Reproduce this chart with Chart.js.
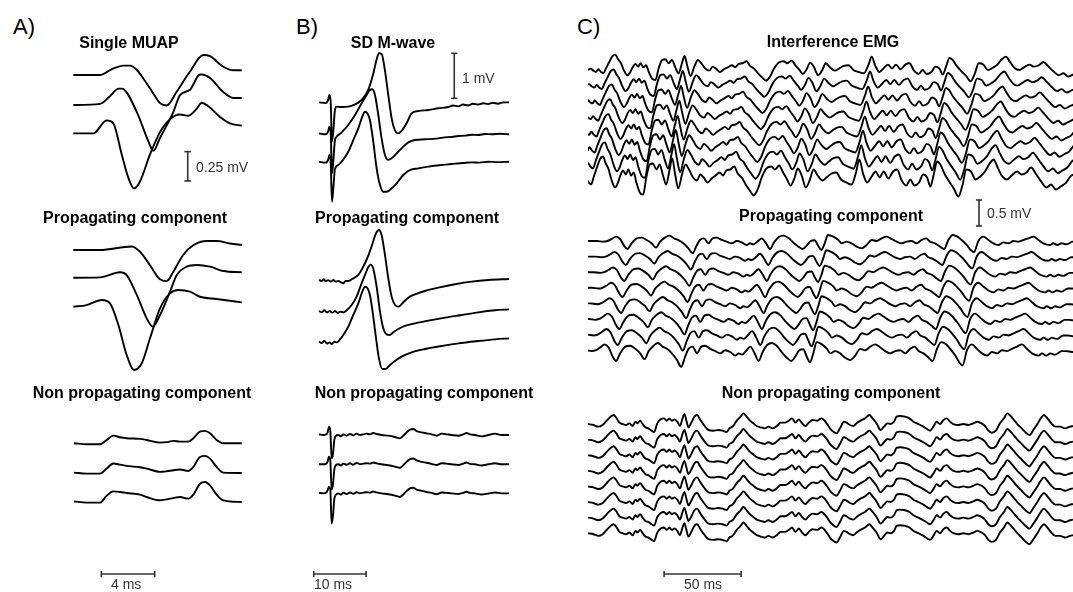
<!DOCTYPE html>
<html>
<head>
<meta charset="utf-8">
<title>Single MUAP, M-wave and interference EMG</title>
<script src="https://cdn.jsdelivr.net/npm/chart.js@4.4.1/dist/chart.umd.min.js"></script>
<style>
  body { margin: 0; background: #fff; }
  #fig { position: relative; width: 1073px; height: 592px; overflow: hidden; font-family: 'Liberation Sans', Arial, sans-serif; color: #000; }
  #fig canvas { position: absolute; }
  .t { position: absolute; white-space: nowrap; line-height: 1; }
  .title { font-weight: bold; font-size: 16px; transform: translate(-50%, -50%); }
  .panel { font-size: 22px; transform: translateY(-50%); }
  .unit { font-size: 14px; color: #333; transform: translateY(-50%); }
</style>
</head>
<body>
<div id="fig">
  <canvas id="colA" width="200" height="540" style="left:60px;top:40px"></canvas>
  <canvas id="colB" width="220" height="540" style="left:300px;top:40px"></canvas>
  <canvas id="colC" width="485" height="540" style="left:588px;top:40px"></canvas>

  <div class="t panel" style="left:13px;top:27px">A)</div>
  <div class="t panel" style="left:296px;top:27px">B)</div>
  <div class="t panel" style="left:577px;top:27px">C)</div>

  <div class="t title" style="left:129px;top:43px">Single MUAP</div>
  <div class="t title" style="left:393px;top:43px">SD M-wave</div>
  <div class="t title" style="left:833px;top:42px">Interference EMG</div>

  <div class="t title" style="left:135px;top:218px">Propagating component</div>
  <div class="t title" style="left:407px;top:218px">Propagating component</div>
  <div class="t title" style="left:831px;top:216px">Propagating component</div>

  <div class="t title" style="left:142px;top:393px">Non propagating component</div>
  <div class="t title" style="left:424px;top:393px">Non propagating component</div>
  <div class="t title" style="left:831px;top:393px">Non propagating component</div>

  <div class="t unit" style="left:196px;top:167px">0.25 mV</div>
  <div class="t unit" style="left:462px;top:78px">1 mV</div>
  <div class="t unit" style="left:987px;top:213px">0.5 mV</div>
  <div class="t unit" style="left:111px;top:584px">4 ms</div>
  <div class="t unit" style="left:314px;top:584px">10 ms</div>
  <div class="t unit" style="left:684px;top:584px">50 ms</div>
</div>

<script>
// time in ms, amplitude in mV (relative to each trace's own baseline)

// A) single MUAP, 3 channels
const muapTop1 = [[0,0],[2.0,0],[2.9,0.05],[3.75,0.08],[4.25,0.08],[4.75,0.045],[5.25,-0.03],[5.9,-0.14],[6.5,-0.24],[7.0,-0.26],[7.76,-0.14],[8.75,0.03],[9.75,0.17],[10.25,0.16],[11.25,0.07],[12.0,0.04],[12.63,0.04]];
const muapTop2 = [[0,0],[2.0,0.01],[2.7,0.07],[3.4,0.14],[3.63,0.14],[4.76,-0.06],[5.63,-0.31],[6.0,-0.39],[6.5,-0.28],[7.5,-0.06],[8.0,0.085],[8.75,0.13],[9.5,0.26],[9.63,0.26],[10.25,0.23],[11.25,0.11],[12.0,0.06],[12.63,0.06]];
const muapTop3 = [[0,0],[1.5,0],[2.5,0.11],[3.0,0.085],[3.63,-0.18],[4.13,-0.38],[4.55,-0.47],[5.0,-0.41],[5.75,-0.18],[6.5,0.01],[7.25,0.12],[8.0,0.16],[8.63,0.15],[9.26,0.21],[9.63,0.26],[10.13,0.23],[11.0,0.14],[11.75,0.085],[12.63,0.065]];

const muapProp1 = [[0,0],[2.0,0],[4.38,0.03],[5.0,-0.015],[5.75,-0.13],[6.5,-0.25],[7.0,-0.265],[7.5,-0.185],[8.25,-0.04],[9.0,0.04],[10.0,0.077],[10.75,0.077],[11.75,0.056],[12.63,0.043]];
const muapProp2 = [[0,0],[2.0,0.003],[3.5,0.046],[4.0,0.023],[4.76,-0.147],[5.5,-0.346],[5.96,-0.417],[6.5,-0.318],[7.25,-0.119],[7.76,0.023],[8.5,0.094],[9.26,0.108],[10.25,0.094],[11.25,0.057],[12.63,0.046]];
const muapProp3 = [[0,0],[1.0,0.014],[2.13,0.057],[2.75,0.029],[3.38,-0.156],[4.0,-0.411],[4.55,-0.539],[5.13,-0.482],[5.75,-0.269],[6.5,-0.014],[7.25,0.114],[7.88,0.142],[8.75,0.128],[9.5,0.085],[10.75,0.066],[12.63,0.037]];

const muapNonPropT = [0.05,1.0,2.0,2.5,3.0,3.5,4.0,5.0,5.5,6.5,7.0,7.5,8.0,8.63,9.0,9.5,9.88,10.25,10.75,11.25,12.63];
const muapNonProp1 = [0,-0.009,-0.009,0.028,0.065,0.051,0.043,0.037,0.028,0.005,0.009,0.02,0.014,0.014,0.043,0.099,0.105,0.085,0.028,0,0];
const muapNonProp2 = [0,-0.009,-0.009,0.034,0.077,0.068,0.057,0.045,0.034,0.006,0.011,0.02,0.026,0.014,0.048,0.133,0.142,0.119,0.048,0,-0.003];
const muapNonProp3 = [0,-0.011,-0.011,0.048,0.085,0.08,0.071,0.057,0.037,0.009,0.017,0.028,0.037,0.023,0.057,0.15,0.165,0.136,0.057,0.009,-0.006];

// B) single differential M-wave, 3 channels
const mwave1 = [[0.02,0],[1.3,-0.015],[1.8,0.067],[2.0,0.163],[2.26,0.015],[2.5,-0.87],[2.75,-0.65],[3.07,-0.17],[3.4,-0.096],[4.35,-0.104],[5.6,-0.096],[6.9,-0.044],[8.17,0.052],[9.4,0.27],[10.4,0.64],[11.0,0.94],[11.5,1.09],[12.0,1.07],[12.6,0.72],[13.25,0.163],[13.9,-0.356],[14.5,-0.615],[15.15,-0.69],[15.8,-0.637],[16.75,-0.467],[17.7,-0.244],[19.0,-0.193],[20.9,-0.17],[22.8,-0.133],[24.7,-0.104],[25.6,-0.07],[26.6,-0.09],[27.5,-0.05],[28.5,-0.07],[29.4,-0.03],[30.4,-0.05],[31.4,-0.02],[32.3,-0.04],[33.2,-0.01],[34.2,-0.03],[35.2,0],[36.3,0]];
const mwave2 = [[0.02,0],[1.3,-0.022],[1.8,0.052],[2.0,0.148],[2.26,0.022],[2.5,-0.89],[2.75,-0.63],[3.07,-0.148],[3.4,-0.074],[4.35,0.022],[5.6,0.185],[6.9,0.407],[8.17,0.667],[9.12,0.852],[9.75,0.963],[10.2,0.978],[10.71,0.852],[11.35,0.407],[11.98,-0.111],[12.62,-0.48],[13.26,-0.59],[13.89,-0.556],[14.85,-0.444],[15.8,-0.333],[17.07,-0.2],[18.35,-0.148],[20.25,-0.133],[22.8,-0.111],[24.0,-0.09],[25.35,-0.081],[26.6,-0.06],[27.9,-0.052],[29.2,-0.03],[30.44,-0.037],[31.7,-0.015],[32.98,-0.022],[34.6,-0.01],[36.29,-0.022]];
const mwave3 = [[0.02,0],[1.29,-0.022],[1.8,0.052],[1.99,0.148],[2.25,0.015],[2.5,-0.889],[2.76,-0.593],[3.07,-0.163],[3.71,-0.074],[4.35,0],[5.62,0.222],[6.57,0.481],[7.53,0.741],[8.29,1.0],[8.8,1.111],[9.25,1.074],[9.75,0.926],[10.39,0.444],[11.03,-0.148],[11.67,-0.519],[12.3,-0.667],[12.94,-0.667],[13.76,-0.607],[14.85,-0.481],[16.12,-0.296],[17.39,-0.185],[18.98,-0.148],[20.89,-0.111],[23.44,-0.074],[24.7,-0.06],[25.98,-0.044],[27.5,-0.03],[29.16,-0.015],[30.7,-0.02],[32.35,0],[34.3,-0.01],[36.29,0]];

const mwaveProp1 = [[0.02,0],[0.53,-0.022],[0.91,0.015],[1.29,-0.022],[1.8,-0.007],[2.31,-0.037],[2.76,0],[3.2,-0.037],[3.71,-0.022],[4.22,-0.052],[4.66,-0.074],[5.11,-0.022],[5.62,-0.022],[6.57,0.037],[7.53,0.111],[8.48,0.296],[9.44,0.541],[10.26,0.815],[10.9,1.037],[11.47,1.111],[11.98,1.0],[12.62,0.556],[13.26,0.037],[13.89,-0.37],[14.53,-0.556],[15.17,-0.593],[16.12,-0.496],[17.07,-0.393],[18.35,-0.319],[20.25,-0.244],[22.8,-0.17],[25.98,-0.096],[29.16,-0.037],[32.35,0],[36.29,0.022]];
const mwaveProp2 = [[0.02,0],[0.53,-0.03],[1.04,0.015],[1.55,-0.03],[2.06,0],[2.56,-0.037],[3.07,0],[3.58,-0.044],[4.09,-0.015],[4.66,-0.03],[5.3,0.015],[6.26,0.133],[7.21,0.319],[8.16,0.615],[8.93,0.837],[9.44,0.978],[9.88,1.03],[10.39,0.941],[11.03,0.541],[11.67,-0.015],[12.3,-0.385],[12.94,-0.519],[13.57,-0.533],[14.21,-0.474],[15.17,-0.4],[16.44,-0.333],[18.35,-0.274],[20.89,-0.215],[24.07,-0.148],[27.26,-0.089],[30.44,-0.03],[33.62,0.015],[36.29,0.037]];
const mwaveProp3 = [[0.02,0],[0.53,-0.03],[1.04,0.015],[1.55,-0.044],[2.06,-0.015],[2.44,-0.052],[2.95,0],[3.46,-0.015],[4.03,0.052],[4.66,0.148],[5.62,0.333],[6.57,0.593],[7.53,0.852],[8.29,1.111],[8.8,1.222],[9.31,1.185],[9.75,1.037],[10.26,0.667],[10.84,0.148],[11.47,-0.37],[12.11,-0.607],[12.75,-0.607],[13.57,-0.519],[14.53,-0.43],[15.8,-0.333],[17.71,-0.237],[20.25,-0.163],[23.44,-0.096],[26.62,-0.037],[30.44,0.015],[33.62,0.052],[36.29,0.074]];

const mwaveNonPropT = [0.02,0.85,1.42,1.67,1.93,2.18,2.44,2.69,2.95,3.26,3.71,4.22,4.66,5.3,5.94,6.57,7.21,7.85,8.48,9.12,9.75,10.39,11.03,11.98,13.26,14.53,15.48,16.12,16.76,17.39,18.03,18.66,19.62,20.57,21.53,22.48,23.44,24.39,25.35,26.62,27.57,28.21,28.85,29.8,31.07,32.35,33.62,34.89,36.29];
const mwaveNonProp1 = [0.015,0,0.015,0.059,0.178,0.104,-0.519,-0.43,-0.111,-0.015,0,-0.03,0.015,-0.015,0.022,-0.007,0.03,0,0.015,0.03,0.015,0.044,0.022,0,-0.015,-0.044,-0.074,-0.015,0.059,0.119,0.133,0.089,0.059,0.037,0.015,-0.015,0.03,0.015,0,-0.015,0.015,0.044,0.015,0,-0.03,0,0.03,0,0];
const mwaveNonProp2 = [0,0,0.015,0.06,0.17,0.1,-0.56,-0.45,-0.12,-0.02,0,-0.025,0.015,-0.01,0.022,-0.01,0.03,0.005,0.015,0.025,0.015,0.04,0.02,0,-0.02,-0.05,-0.078,-0.02,0.055,0.115,0.13,0.085,0.055,0.035,0.01,-0.015,0.025,0.015,0,-0.015,0.015,0.04,0.01,0,-0.025,0,0.025,0,0];
const mwaveNonProp3 = [0.01,0,0.02,0.07,0.14,0.09,-0.67,-0.5,-0.13,-0.03,-0.005,-0.025,0.015,-0.015,0.02,-0.01,0.025,0,0.015,0.025,0.015,0.04,0.02,0,-0.02,-0.05,-0.08,-0.025,0.05,0.11,0.125,0.085,0.055,0.03,0.01,-0.02,0.02,0.01,0,-0.015,0.01,0.035,0.01,0,-0.025,-0.005,0.02,0,0];

// C) interference EMG, 8 channels: top channel waveform, per-channel delay (ms) and gain
const emgInterference = [[0,-0.013],[1.7,0.013],[3.5,-0.026],[5.2,-0.051],[6.7,0],[8.4,-0.051],[10.0,-0.077],[11.7,0.019],[13.9,0.147],[16.0,0.256],[17.8,0.282],[19.5,0.192],[21.2,0.128],[23.4,-0.026],[25.6,-0.115],[27.3,-0.064],[29.0,0.038],[30.8,0.103],[32.5,0.051],[34.2,0.115],[36.0,0.038],[37.7,0.077],[39.4,-0.051],[41.6,-0.179],[43.8,-0.205],[45.9,0.019],[48.1,0.179],[50.2,0.192],[52.4,0.115],[54.5,0.179],[56.7,0.038],[58.8,-0.077],[61.0,0.115],[62.7,0.256],[64.5,0.064],[66.6,-0.128],[69.2,0.064],[71.4,0.179],[73.6,0.115],[76.2,0.013],[78.8,-0.026],[80.9,0.051],[83.1,0.013],[85.7,-0.051],[88.3,0],[90.9,0.038],[93.5,0.077],[95.7,0.038],[97.8,0.103],[100.4,0.115],[103.0,0.154],[105.2,0.064],[107.8,0.013],[110.4,-0.077],[113.0,-0.154],[115.6,-0.218],[118.2,-0.141],[120.8,0.013],[123.9,0.128],[126.9,0.154],[129.5,0.115],[132.1,0.167],[134.7,0.077],[137.3,-0.013],[139.4,-0.09],[142.0,0],[144.2,0.128],[146.8,0.038],[149.4,-0.115],[151.9,-0.026],[154.5,0.115],[157.1,0.038],[160.4,-0.026],[163.2,0.019],[166.2,0.064],[169.2,0.077],[172.3,-0.013],[175.7,-0.051],[179.2,-0.077],[182.1,0.083],[184.2,0.244],[186.6,0.064],[189.2,-0.051],[191.8,0.013],[194.8,0.09],[197.4,0.013],[200.0,0.09],[203.0,0],[206.1,0.09],[208.7,0.115],[211.7,-0.026],[214.7,-0.09],[217.3,-0.013],[219.9,-0.09],[223.0,-0.051],[225.6,0.051],[228.2,0.013],[230.3,-0.103],[232.5,0.051],[234.7,0.218],[236.8,0.179],[239.4,0.064],[242.5,-0.038],[245.5,-0.128],[248.5,-0.231],[251.1,-0.09],[253.7,0.115],[256.7,0.09],[259.7,-0.013],[262.7,0.026],[265.8,0.09],[268.8,0.192],[271.4,0.244],[274.0,0.141],[277.0,0.026],[280.1,-0.013],[283.1,0.038],[286.6,0.09],[289.6,0.051],[292.7,0.077],[295.7,0.141],[298.7,0.064],[302.2,-0.038],[305.7,-0.115],[308.7,-0.077],[311.8,-0.141],[314.9,-0.103],[318.2,-0.06],[321.4,0.03],[324.7,0.06]];
const emgInterfDelay = [0,1.1,2.3,3.4,4.5,5.7,6.8,8.0];
const emgInterfGain = [1,1.05,1.1,1.15,1.2,1.3,1.4,1.5];

const emgProp = [[0,0],[5.6,0],[10.0,-0.013],[12.6,0],[15.3,0.038],[18.2,0.083],[20.8,0.038],[23.4,-0.09],[25.6,-0.154],[28.3,-0.045],[31.6,0.051],[34.8,0.064],[38.1,0.019],[41.3,-0.045],[44.2,-0.128],[46.8,-0.013],[50.0,0.064],[52.8,0.103],[55.8,0.051],[58.7,0.019],[61.9,-0.045],[65.2,-0.141],[67.9,-0.237],[70.5,-0.09],[72.7,0.019],[75.3,0.051],[78.2,-0.045],[80.9,0.051],[83.5,0.064],[86.8,0.019],[90.0,-0.013],[93.3,-0.045],[96.5,0],[99.8,-0.026],[103.0,-0.077],[105.2,-0.045],[107.4,-0.064],[110.0,-0.013],[112.8,0.051],[115.6,-0.045],[118.2,-0.154],[120.8,-0.026],[123.9,0.077],[126.9,0.103],[130.4,0.051],[133.8,-0.045],[136.9,-0.115],[139.4,-0.154],[142.0,-0.09],[144.6,0],[147.2,0.013],[149.4,-0.09],[151.5,-0.173],[153.7,-0.045],[155.8,0.115],[159.3,0.083],[162.6,0.019],[164.7,-0.045],[167.9,-0.013],[171.2,-0.045],[174.4,-0.109],[177.7,-0.141],[180.9,-0.077],[184.2,0.019],[187.4,0],[190.7,0.051],[193.9,0.083],[197.2,0.038],[200.4,-0.013],[203.7,-0.045],[206.9,-0.013],[210.1,0],[213.4,-0.045],[216.6,0.019],[219.5,0.051],[222.1,-0.013],[225.3,-0.045],[228.6,-0.109],[231.2,-0.154],[234.0,0.019],[236.8,0.115],[239.9,0.083],[242.6,0.019],[245.9,-0.077],[248.5,-0.173],[250.6,-0.218],[253.5,0],[256.7,0.083],[260.0,0.019],[263.2,-0.045],[266.5,-0.077],[269.7,-0.026],[273.0,-0.045],[276.2,0],[279.5,-0.013],[282.7,0.019],[286.0,0.051],[289.2,0.083],[292.5,0.019],[295.7,-0.045],[300.0,-0.077],[302.2,-0.045],[304.8,-0.077],[307.6,-0.045],[310.8,-0.064],[314.9,-0.013],[317.8,-0.013],[321.7,-0.026],[324.7,-0.013]];
const emgPropDelay = [0,1.1,2.1,3.2,4.2,5.3,6.3,7.4];
const emgPropGain = [1,1.05,1.1,1.15,1.2,1.25,1.3,1.35];

const emgNonProp = [[0,0],[3.5,-0.019],[6.7,-0.051],[9.5,-0.019],[12.1,0.064],[14.7,0.141],[16.5,0.173],[18.2,0.128],[20.4,0.026],[22.5,0],[24.7,-0.019],[26.9,0.013],[29.0,-0.038],[30.8,0.045],[32.1,0.013],[33.8,0.064],[35.5,0],[37.3,-0.064],[39.2,-0.083],[41.3,-0.128],[42.9,-0.154],[45.0,0.013],[47.2,0.09],[49.4,0.109],[51.1,0.064],[52.8,0.109],[54.5,0.064],[56.2,0.09],[58.0,0.045],[59.7,-0.038],[61.3,0.103],[62.6,0.192],[63.9,0.064],[65.2,-0.064],[66.9,0.013],[69.1,0.141],[70.8,0.173],[73.0,0.077],[75.3,-0.019],[78.2,-0.115],[81.4,-0.128],[84.7,-0.115],[87.4,-0.128],[90.1,-0.154],[91.8,-0.083],[93.9,-0.051],[96.6,0.064],[99.1,0.141],[100.9,0.205],[103.0,0.141],[105.2,0.064],[107.4,0.013],[109.5,-0.038],[112.2,-0.064],[114.9,-0.083],[117.1,-0.051],[119.9,-0.083],[122.6,-0.038],[125.1,0.026],[127.8,0.026],[130.4,0.064],[132.5,0.109],[134.7,0.026],[136.9,0.09],[139.0,0.013],[141.2,-0.038],[143.3,0.026],[145.9,0.077],[148.9,0.064],[151.5,0.109],[155.0,0.013],[157.1,-0.083],[159.3,-0.147],[161.4,-0.179],[163.6,-0.083],[166.2,0.045],[167.9,0.026],[170.1,-0.019],[172.3,-0.038],[174.4,0.013],[177.0,0.064],[179.9,0.109],[182.7,0.173],[184.8,0.109],[187.4,0.013],[190.0,-0.115],[192.2,-0.051],[194.4,0.013],[196.5,0],[198.7,0.045],[200.4,0.141],[202.6,0.154],[205.8,0.141],[208.7,0.109],[211.3,0.045],[214.5,0],[217.8,-0.051],[220.4,-0.103],[222.1,-0.128],[224.3,-0.051],[226.4,0.045],[228.6,0],[230.8,0.077],[232.9,0.109],[235.1,0.045],[237.3,0],[240.5,-0.019],[243.8,0],[247.0,-0.019],[250.2,0.013],[252.8,0.045],[255.6,0.013],[257.8,-0.038],[260.0,-0.128],[262.1,-0.167],[264.9,-0.128],[267.5,0.013],[270.1,0.109],[272.3,0.205],[274.4,0.154],[276.6,0.077],[278.8,0],[281.6,-0.083],[284.4,-0.167],[286.6,-0.212],[289.2,-0.115],[291.8,0],[294.0,0.109],[296.1,0.173],[298.3,0.109],[300.9,0.013],[303.5,-0.051],[306.5,-0.051],[309.7,-0.083],[313.0,-0.051],[314.9,-0.038]];

// scale bars
const scaleA = { mV: 0.25, ms: 4 };
const scaleB = { mV: 1, ms: 10 };
const scaleC = { mV: 0.5, ms: 50 };

// ---- layout (baselines in mV on each column's own axis) ----
const rowsA = { top: [-0.298, -0.554, -0.795], prop: [-1.789, -2.025, -2.272], nonProp: [-3.435, -3.685, -3.93] };
const rowsB = { top: [-1.385, -2.074, -2.704], prop: [-5.333, -6.022, -6.704], nonProp: [-8.778, -9.429, -10.074] };
const rowsC = { top: -0.563, prop: -3.865, nonProp: -7.385, step: 0.3 };

const ink = '#000';
const barInk = '#333';

function zip(t, v) { return t.map((x, i) => [x, v[i]]); }

function trace(points, base, shift = 0, gain = 1) {
  return {
    data: points.map(([t, v]) => ({ x: t - shift, y: base + gain * v })),
    borderColor: ink,
    borderWidth: 1.9,
    cubicInterpolationMode: 'monotone',
    pointRadius: 0,
    fill: false
  };
}

function line(x0, y0, x1, y1) {
  return { data: [{ x: x0, y: y0 }, { x: x1, y: y1 }], borderColor: barInk, borderWidth: 1.6, pointRadius: 0, tension: 0, fill: false };
}
function vBar(x, yTop, len, cap) {
  return [line(x, yTop, x, yTop - len), line(x - cap, yTop, x + cap, yTop), line(x - cap, yTop - len, x + cap, yTop - len)];
}
function hBar(x0, y, len, cap) {
  return [line(x0, y, x0 + len, y), line(x0, y - cap, x0, y + cap), line(x0 + len, y - cap, x0 + len, y + cap)];
}

function column(id, xRange, yRange, datasets) {
  return new Chart(document.getElementById(id), {
    type: 'line',
    data: { datasets },
    options: {
      responsive: false,
      animation: false,
      events: [],
      layout: { padding: 0 },
      plugins: { legend: { display: false }, tooltip: { enabled: false } },
      scales: {
        x: { type: 'linear', display: false, min: xRange[0], max: xRange[1] },
        y: { type: 'linear', display: false, min: yRange[0], max: yRange[1] }
      }
    }
  });
}

// column A
column('colA', [-1, 14], [-4.6, 0], [
  ...[muapTop1, muapTop2, muapTop3].map((p, i) => trace(p, rowsA.top[i])),
  ...[muapProp1, muapProp2, muapProp3].map((p, i) => trace(p, rowsA.prop[i])),
  ...[muapNonProp1, muapNonProp2, muapNonProp3].map((v, i) => trace(zip(muapNonPropT, v), rowsA.nonProp[i])),
  ...vBar(8.58, -0.951, scaleA.mV, 0.25),
  ...hBar(2.1, -4.549, scaleA.ms, 0.026)
]);

// column B
column('colB', [-3.6, 38.4], [-12, 0], [
  ...[mwave1, mwave2, mwave3].map((p, i) => trace(p, rowsB.top[i])),
  ...[mwaveProp1, mwaveProp2, mwaveProp3].map((p, i) => trace(p, rowsB.prop[i])),
  ...[mwaveNonProp1, mwaveNonProp2, mwaveNonProp3].map((v, i) => trace(zip(mwaveNonPropT, v), rowsB.nonProp[i])),
  ...vBar(25.85, -0.296, scaleB.mV, 0.6),
  ...hBar(-0.98, -11.867, scaleB.ms, 0.067)
]);

// column C
const cSets = [];
emgInterfDelay.forEach((d, k) => cSets.push(trace(emgInterference, rowsC.top - k * rowsC.step, d, emgInterfGain[k])));
emgPropDelay.forEach((d, k) => cSets.push(trace(emgProp, rowsC.prop - k * rowsC.step, d, emgPropGain[k])));
for (let k = 0; k < 8; k++) cSets.push(trace(emgNonProp, rowsC.nonProp - k * rowsC.step));
cSets.push(...vBar(253.9, -3.077, scaleC.mV, 2));
cSets.push(...hBar(49.4, -10.27, scaleC.ms, 0.058));
column('colC', [0, 485 / 1.54], [-540 / 52, 0], cSets);
</script>
</body>
</html>
